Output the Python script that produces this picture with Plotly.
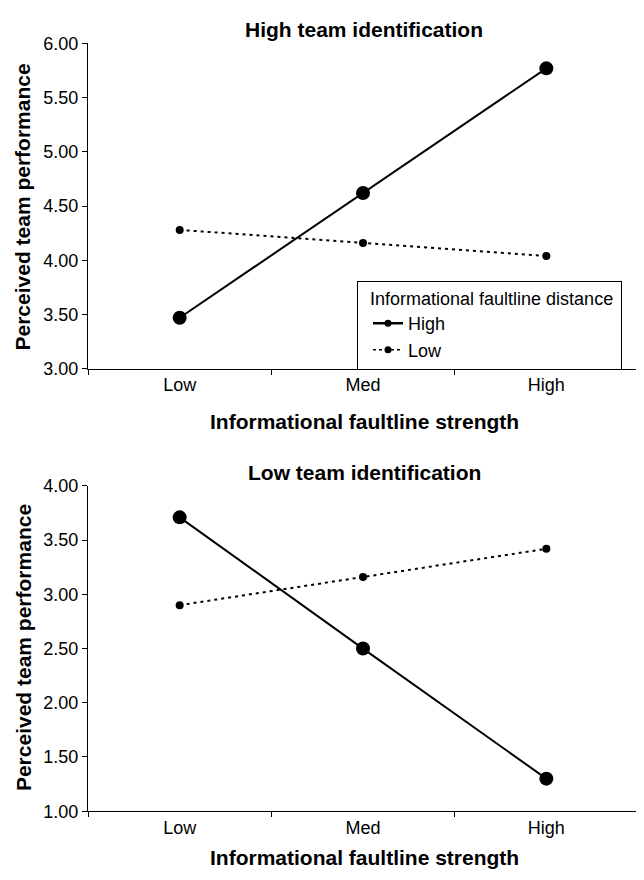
import plotly.graph_objects as go

categories = ["Low", "Med", "High"]
top_high = [3.47, 4.62, 5.77]
top_low = [4.28, 4.16, 4.04]
bot_high = [3.71, 2.50, 1.30]
bot_low = [2.90, 3.16, 3.42]
legend_names = ["High", "Low"]
panel_titles = ["High team identification", "Low team identification"]
x_title = "Informational faultline strength"
y_title = "Perceived team performance"
legend_title = "Informational faultline distance"

FONT = "Liberation Sans, Arial, sans-serif"
OFF = 8  # default page body margin
W, H = 644 - OFF, 880 - 2 * OFF
# reference pixel positions (window coordinates)
AX_L, AX_R = 88, 638

def px_x(x):
    return x - OFF

def px_y(y):
    return y - OFF

L = px_x(AX_L)
R = W - px_x(AX_R)
PW = W - L - R

def fx(x):
    return (px_x(x) - L) / PW

def fy(y):
    return (H - px_y(y)) / H

DOT = "3px,4px"

fig = go.Figure()

def add_panel(high, low, xa, ya):
    fig.add_trace(go.Scatter(x=categories, y=high, mode="lines+markers", xaxis=xa, yaxis=ya,
                             line=dict(color="black", width=2), marker=dict(color="black", size=14),
                             showlegend=False))
    fig.add_trace(go.Scatter(x=categories, y=low, mode="lines+markers", xaxis=xa, yaxis=ya,
                             line=dict(color="black", width=2, dash=DOT), marker=dict(color="black", size=8),
                             showlegend=False))

add_panel(top_high, top_low, "x", "y")
add_panel(bot_high, bot_low, "x2", "y2")

# legend entries
fig.add_trace(go.Scatter(x=[None], y=[None], mode="lines+markers", name=legend_names[0],
                         line=dict(color="black", width=2.5), marker=dict(color="black", size=7)))
fig.add_trace(go.Scatter(x=[None], y=[None], mode="lines+markers", name=legend_names[1],
                         line=dict(color="black", width=1.5, dash="3px,3px"), marker=dict(color="black", size=7)))

xcommon = dict(type="category", range=[-0.5, 2.5], showline=True, linecolor="black", linewidth=1,
               ticks="outside", tickson="boundaries", ticklen=5, tickcolor="black",
               showgrid=False, zeroline=False, tickfont=dict(size=18, color="black", family=FONT),
               domain=[0, 1])
ycommon = dict(showline=True, linecolor="black", linewidth=1, ticks="outside", ticklen=5,
               tickcolor="black", showgrid=False, zeroline=False, dtick=0.5, tickformat=".2f",
               tickfont=dict(size=18, color="black", family=FONT))

fig.update_layout(
    width=W, height=H,
    margin=dict(l=L, r=R, t=0, b=0),
    paper_bgcolor="white", plot_bgcolor="white",
    font=dict(family=FONT, color="black"),
    xaxis=dict(xcommon, anchor="y"),
    yaxis=dict(ycommon, range=[3, 6], domain=[fy(367), fy(34)], anchor="x"),
    xaxis2=dict(xcommon, anchor="y2"),
    yaxis2=dict(ycommon, range=[1, 4], domain=[fy(820), fy(487)], anchor="x2"),
    legend=dict(x=fx(357), y=fy(277), xanchor="left", yanchor="top",
                bordercolor="black", borderwidth=1, bgcolor="white",
                title=dict(text="&nbsp;&nbsp;" + legend_title + "&nbsp;", font=dict(size=18, family=FONT)),
                font=dict(size=18, family=FONT), tracegroupgap=0, itemwidth=30, indentation=10),
    showlegend=True,
)

ann = []
for t, ypx in zip(panel_titles, [20, 473]):
    ann.append(dict(text="<b>" + t + "</b>", x=fx(364), y=fy(ypx), xref="paper", yref="paper",
                    showarrow=False, xanchor="center", yanchor="middle", font=dict(size=21, family=FONT)))
for ypx in [421, 867]:
    ann.append(dict(text="<b>" + x_title + "</b>", x=fx(364), y=fy(ypx), xref="paper", yref="paper",
                    showarrow=False, xanchor="center", yanchor="middle", font=dict(size=21, family=FONT)))
for ypx in [202, 653]:
    ann.append(dict(text="<b>" + y_title + "</b>", x=fx(23), y=fy(ypx), xref="paper", yref="paper",
                    showarrow=False, xanchor="center", yanchor="middle", textangle=-90,
                    font=dict(size=21, family=FONT)))
fig.update_layout(annotations=ann)

fig.write_html("out.html")
